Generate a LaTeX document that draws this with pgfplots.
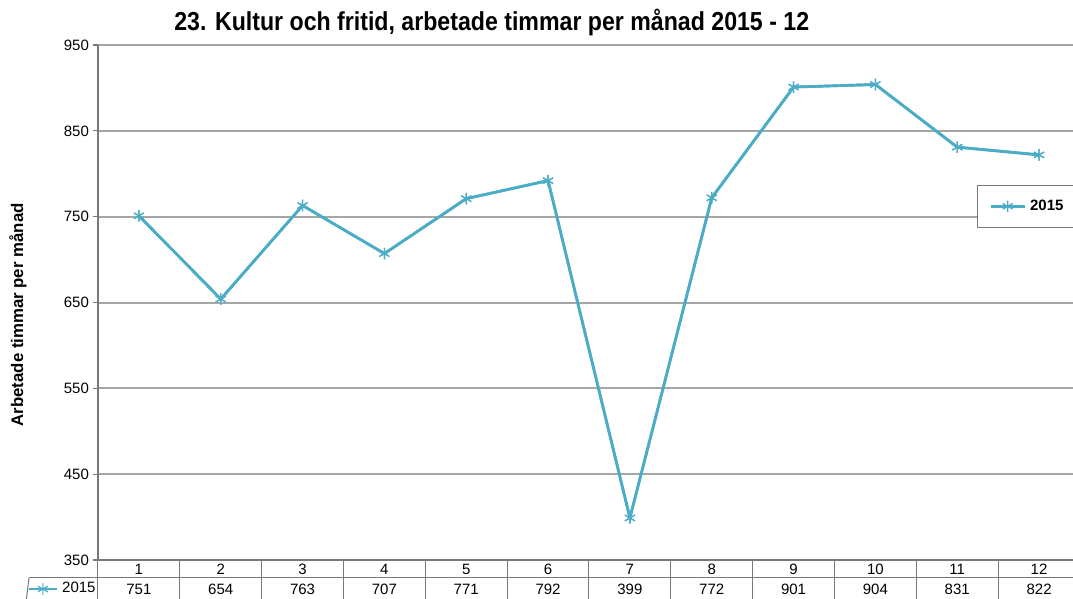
\documentclass[border=0pt]{standalone}
\usepackage{fontspec}
\setmainfont{Liberation Sans}
\newfontfamily\titlefont[FakeStretch=0.89]{Liberation Sans}
\usepackage{pgfplots}
\usepackage{pgfplotstable}
\pgfplotsset{compat=1.18}
\definecolor{series}{RGB}{75,172,198}
\definecolor{gridgray}{RGB}{166,166,166}
\definecolor{linegray}{RGB}{120,120,120}

\pgfplotstableread{
month hours
1  751
2  654
3  763
4  707
5  771
6  792
7  399
8  772
9  901
10 904
11 831
12 822
}\datatable

\begin{document}
\begin{tikzpicture}
\useasboundingbox (-49pt,-19.5pt) rectangle (487.5pt,280pt);
\pgfplotsset{base/.style={
  width=491pt, height=257.5pt, scale only axis,
  xmin=0.5, xmax=12.5, ymin=350, ymax=950,
  at={(0,0)}, anchor=south west}}
\begin{axis}[base, clip=false,
  axis lines*=left,
  axis line style={linegray, line width=0.75pt},
  ytick={350,450,...,950},
  ymajorgrids,
  grid style={gridgray, line width=1pt},
  tick align=outside, major tick length=2.5pt,
  ytick style={linegray, line width=0.6pt},
  yticklabel style={font=\fontsize{7.5}{8}\selectfont,
    /pgf/number format/assume math mode=true, xshift=1.5pt},
  xtick={1,...,12},
  xtick style={draw=none},
  xticklabels={{1\\751},{2\\654},{3\\763},{4\\707},{5\\771},{6\\792},
               {7\\399},{8\\772},{9\\901},{10\\904},{11\\831},{12\\822}},
  xticklabel style={align=center, font=\fontsize{7.5}{10}\selectfont, inner sep=0pt, yshift=0.5pt},
  title={\titlefont\bfseries 23. Kultur och fritid, arbetade timmar per månad 2015 - 12},
  title style={at={(rel axis cs:0.401,1)}, anchor=center, yshift=5.5pt,
    font=\fontsize{13}{15}\selectfont},
  ylabel={\bfseries Arbetade timmar per månad},
  ylabel style={at={([xshift=-40pt]rel axis cs:0,0.476)}, anchor=center,
    font=\fontsize{8.4}{9}\selectfont},
  legend style={at={(rel axis cs:1,0.728)}, anchor=north east,
    draw=linegray, line width=0.5pt, fill=white,
    font=\bfseries\fontsize{7.5}{8}\selectfont, inner xsep=6pt, inner ysep=5pt},
]
\addplot[series, line width=1.35pt, mark=asterisk, mark size=2.9pt,
  mark options={line width=0.6pt}] table[x=month, y=hours]{\datatable};
\addlegendentry{2015}
% table under the axis
\draw[linegray, line width=0.5pt] ([xshift=-34.5pt,yshift=-9pt]rel axis cs:0,0)
  -- ([yshift=-9pt]rel axis cs:1,0);
\draw[linegray, line width=0.5pt] ([xshift=-34.5pt,yshift=-9pt]rel axis cs:0,0)
  -- ++(0,-12pt);
\pgfplotsinvokeforeach{0.5,1.5,...,12.5}{
  \draw[linegray, line width=0.5pt] (axis cs:#1,350) -- ([yshift=-20pt]axis cs:#1,350);
}
\end{axis}
% second axis: legend key in the table's first cell
\begin{axis}[base, hide axis,
  legend style={draw=none, fill=none, at={(rel axis cs:0,0)}, anchor=east,
    xshift=1pt, yshift=-14.5pt, font=\fontsize{7.5}{8}\selectfont, inner sep=0pt},
  legend image code/.code={\draw[mark repeat=2,mark phase=2]
    plot coordinates {(0pt,0pt)(7pt,0pt)(14pt,0pt)};},
]
\addplot[series, line width=1.35pt, mark=asterisk, mark size=2.9pt,
  mark options={line width=0.6pt}] table[x=month, y=hours]{\datatable};
\addlegendentry{2015}
\end{axis}
\end{tikzpicture}
\end{document}
